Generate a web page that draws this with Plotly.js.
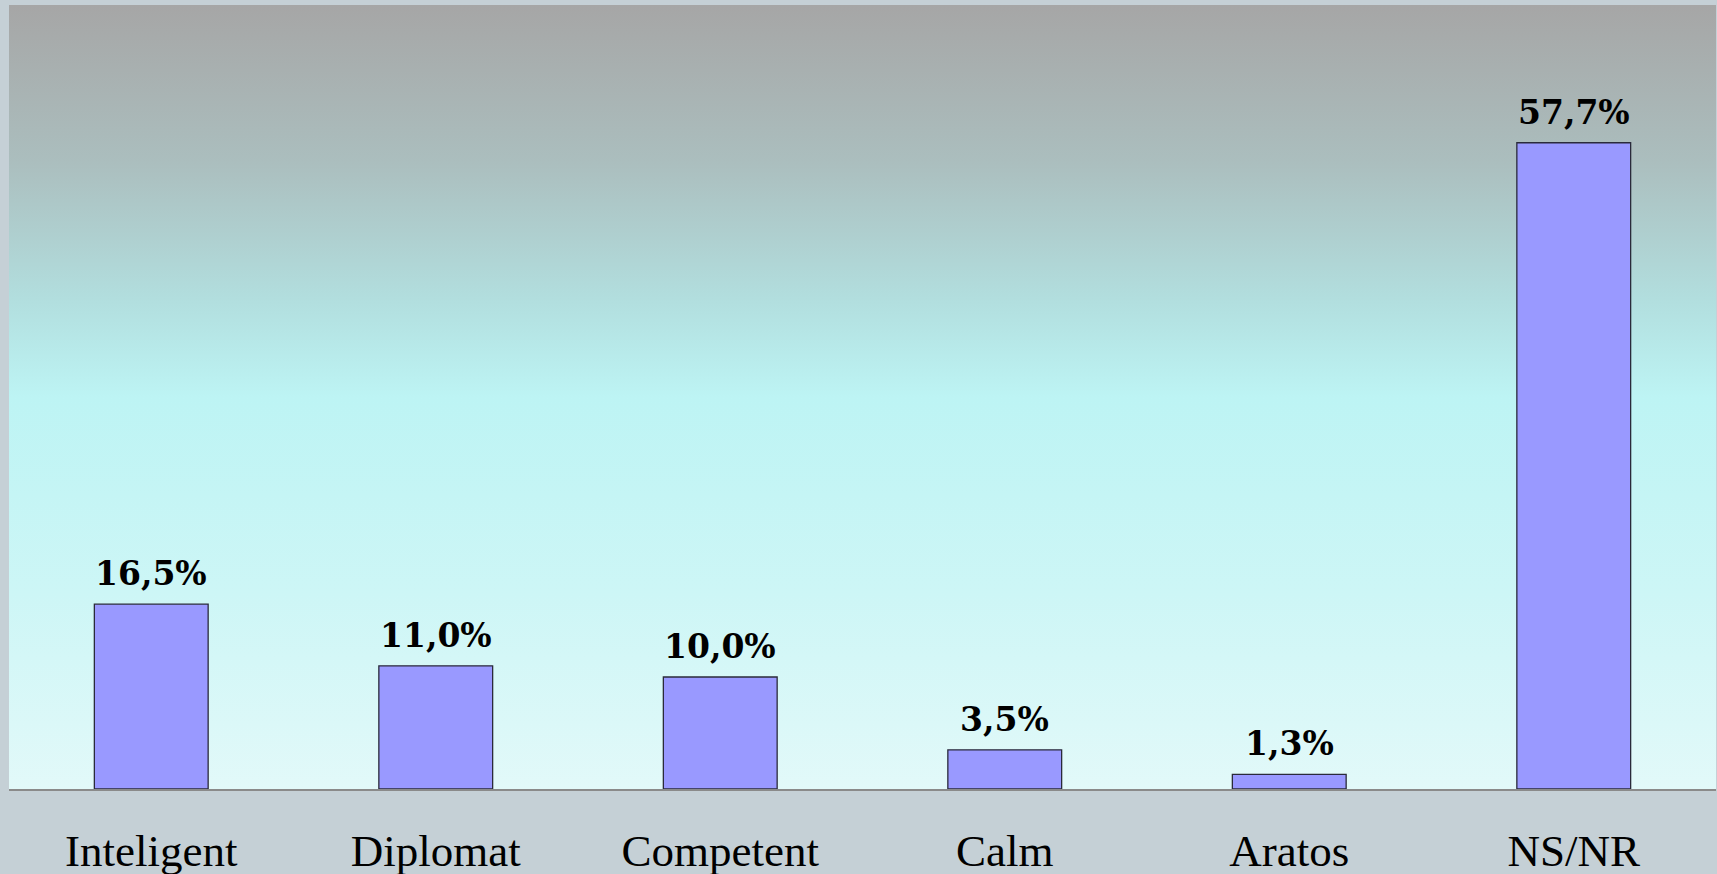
<!DOCTYPE html>
<html>
<head>
<meta charset="utf-8">
<script src="https://cdn.plot.ly/plotly-3.0.1.min.js"></script>
<style>
html,body{margin:0;padding:0;background:#c5d0d6;}
#chart{width:1717px;height:874px;}
</style>
</head>
<body>
<div id="chart"></div>
<script>
const categories = ["Inteligent", "Diplomat", "Competent", "Calm", "Aratos", "NS/NR"];
const values = [16.5, 11.0, 10.0, 3.5, 1.3, 57.7];
const valueLabels = ["16,5%", "11,0%", "10,0%", "3,5%", "1,3%", "57,7%"];

const gradSvg = '<svg xmlns="http://www.w3.org/2000/svg" width="100" height="100" preserveAspectRatio="none">' +
  '<defs><linearGradient id="g" x1="0" y1="0" x2="0" y2="1">' +
  '<stop offset="0" stop-color="#a6a6a6"/>' +
  '<stop offset="0.2" stop-color="#abbebe"/>' +
  '<stop offset="0.38" stop-color="#b2dfdf"/>' +
  '<stop offset="0.5" stop-color="#bdf4f4"/>' +
  '<stop offset="0.75" stop-color="#cdf6f6"/>' +
  '<stop offset="1" stop-color="#e2f9f9"/>' +
  '</linearGradient></defs><rect width="100" height="100" fill="url(#g)"/></svg>';
const gradUri = 'data:image/svg+xml;base64,' + btoa(gradSvg);

const trace = {
  type: 'bar',
  x: categories,
  y: values,
  marker: {color: '#9999ff', line: {color: '#2a2a3a', width: 1.3}},
  hoverinfo: 'skip'
};

const annotations = categories.map((c, i) => ({
  x: c,
  y: values[i],
  xref: 'x', yref: 'y',
  text: valueLabels[i],
  showarrow: false,
  yanchor: 'bottom',
  yshift: 9,
  font: {family: 'DejaVu Serif', size: 33, color: '#000000', weight: 'bold'}
}));

const layout = {
  width: 1717,
  height: 874,
  margin: {l: 9, r: 1, t: 5, b: 85},
  paper_bgcolor: '#c5d0d6',
  plot_bgcolor: 'rgba(0,0,0,0)',
  bargap: 0.6,
  showlegend: false,
  annotations: annotations,
  images: [{
    source: gradUri,
    xref: 'paper', yref: 'paper',
    x: 0, y: 1, sizex: 1, sizey: 1,
    xanchor: 'left', yanchor: 'top',
    sizing: 'stretch', layer: 'below'
  }],
  xaxis: {
    showgrid: false,
    zeroline: false,
    showline: true,
    linecolor: '#8a8a8a',
    linewidth: 1.5,
    ticks: '',
    ticklabelstandoff: 21,
    tickfont: {family: 'Liberation Serif', size: 45, color: '#000000'}
  },
  yaxis: {
    range: [0, 70],
    showgrid: false,
    zeroline: false,
    showline: false,
    showticklabels: false,
    ticks: ''
  }
};

Plotly.newPlot('chart', [trace], layout, {displayModeBar: false, staticPlot: true});
</script>
</body>
</html>
